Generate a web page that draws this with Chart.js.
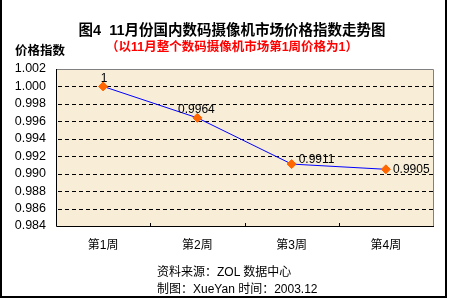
<!DOCTYPE html>
<html><head><meta charset="utf-8">
<script src="https://cdn.jsdelivr.net/npm/chart.js@4"></script>
<style>
html,body{margin:0;padding:0;background:#fff;}
#wrap{position:relative;width:450px;height:300px;overflow:hidden;}
#frame{position:absolute;left:0;top:0;width:443px;height:296px;border-left:2px solid #000;border-right:2px solid #000;border-bottom:2px solid #000;}
canvas{position:absolute;left:0;top:0;}
.t{position:absolute;white-space:nowrap;font-family:"Liberation Sans","Noto Sans CJK SC",sans-serif;color:#000;}
</style></head>
<body><div id="wrap">
<canvas id="c" width="450" height="300"></canvas>
<div id="frame"></div>
<div class="t" id="title" style="left:0;width:464px;text-align:center;top:21px;font-size:14.5px;font-weight:bold;line-height:18px;"></div>
<div class="t" id="sub" style="left:0;width:464px;text-align:center;top:39px;font-size:12.5px;font-weight:bold;color:#FF0000;line-height:16px;"></div>
<div class="t" id="ylab" style="left:15px;top:43px;font-size:12.5px;font-weight:bold;line-height:16px;"></div>
<div class="t" id="f1" style="left:157px;top:264px;font-size:12px;line-height:16px;"></div>
<div class="t" id="f2" style="left:157px;top:281px;font-size:12px;line-height:16px;"></div>
</div>
<script>
const titleText = "图4\u00a0\u00a011月份国内数码摄像机市场价格指数走势图";
const subtitleText = "（以11月整个数码摄像机市场第1周价格为1）";
const yAxisLabel = "价格指数";
const footer1 = "资料来源：ZOL 数据中心";
const footer2 = "制图：XueYan 时间：2003.12";
const categories = ["第1周", "第2周", "第3周", "第4周"];
const priceIndex = [1, 0.9964, 0.9911, 0.9905];
const valueLabels = ["1", "0.9964", "0.9911", "0.9905"];
const yMin = 0.984, yMax = 1.002, yStep = 0.002;

document.getElementById('title').textContent = titleText;
document.getElementById('sub').textContent = subtitleText;
document.getElementById('ylab').textContent = yAxisLabel;
document.getElementById('f1').textContent = footer1;
document.getElementById('f2').textContent = footer2;

const FONT = '"Liberation Sans","Noto Sans CJK SC",sans-serif';

const plotDeco = {
  id: 'plotDeco',
  beforeDatasetsDraw(chart) {
    const {ctx, chartArea: a} = chart;
    const y = chart.scales.y;
    ctx.save();
    ctx.fillStyle = '#F8EED8';
    ctx.fillRect(a.left, a.top, a.right - a.left, a.bottom - a.top);
    // dashed horizontal grid lines (skip top and bottom)
    ctx.strokeStyle = '#000';
    ctx.lineWidth = 1;
    ctx.setLineDash([4, 3]);
    y.ticks.forEach(t => {
      if (t.value >= yMax - 1e-9 || t.value <= yMin + 1e-9) return;
      const py = Math.round(y.getPixelForValue(t.value)) + 0.5;
      ctx.beginPath(); ctx.moveTo(a.left + 2, py); ctx.lineTo(a.right, py); ctx.stroke();
    });
    ctx.restore();
  },
  afterDatasetsDraw(chart) {
    const {ctx, chartArea: a} = chart;
    const x = chart.scales.x;
    ctx.save();
    ctx.lineWidth = 1;
    ctx.strokeStyle = '#808080';
    ctx.beginPath();
    ctx.moveTo(a.left, a.top + 0.5); ctx.lineTo(a.right + 0.5, a.top + 0.5); ctx.lineTo(a.right + 0.5, a.bottom);
    ctx.stroke();
    ctx.strokeStyle = '#000';
    ctx.beginPath();
    ctx.moveTo(a.left + 0.5, a.top); ctx.lineTo(a.left + 0.5, a.bottom + 0.5); ctx.lineTo(a.right + 1, a.bottom + 0.5);
    ctx.stroke();
    for (let i = 1; i < categories.length; i++) {
      const px = Math.round((x.getPixelForValue(i - 1) + x.getPixelForValue(i)) / 2) + 0.5;
      ctx.beginPath(); ctx.moveTo(px, a.bottom); ctx.lineTo(px, a.bottom - 3); ctx.stroke();
    }
    const meta = chart.getDatasetMeta(0);
    ctx.font = '12px ' + FONT;
    ctx.fillStyle = '#000';
    ctx.textBaseline = 'middle';
    meta.data.forEach((pt, i) => {
      const t = valueLabels[i];
      if (i === 0) { ctx.textAlign = 'center'; ctx.fillText(t, pt.x + 1, pt.y - 8); }
      else if (i === 1) { ctx.textAlign = 'center'; ctx.fillText(t, pt.x - 1, pt.y - 8); }
      else { ctx.textAlign = 'left'; ctx.fillText(t, pt.x + 7, pt.y - (i === 2 ? 4 : 0)); }
    });
    ctx.restore();
  }
};

new Chart(document.getElementById('c'), {
  type: 'line',
  data: {
    labels: categories,
    datasets: [{
      data: priceIndex,
      borderColor: '#0000FF',
      borderWidth: 1,
      pointStyle: 'rectRot',
      pointRadius: 4.5,
      pointBackgroundColor: '#FF6600',
      pointBorderColor: '#FF6600',
      pointBorderWidth: 1,
      tension: 0
    }]
  },
  options: {
    responsive: false,
    animation: false,
    layout: {padding: {top: 69, right: 17, left: 0, bottom: 0}},
    plugins: {legend: {display: false}, tooltip: {enabled: false}, title: {display: false}},
    scales: {
      x: {
        offset: true,
        grid: {display: false, drawTicks: false},
        border: {display: false},
        ticks: {color: '#000', font: {size: 12, family: FONT}, padding: 12, maxRotation: 0},
        afterFit(s) { s.height = 74; }
      },
      y: {
        min: yMin, max: yMax,
        grid: {display: false, drawTicks: false},
        border: {display: false},
        ticks: {stepSize: yStep, autoSkip: false, color: '#000', font: {size: 12.5, family: FONT}, padding: 10,
                callback: v => v.toFixed(3)},
        afterFit(s) { s.width = 56; }
      }
    }
  },
  plugins: [plotDeco]
});
</script></body></html>
